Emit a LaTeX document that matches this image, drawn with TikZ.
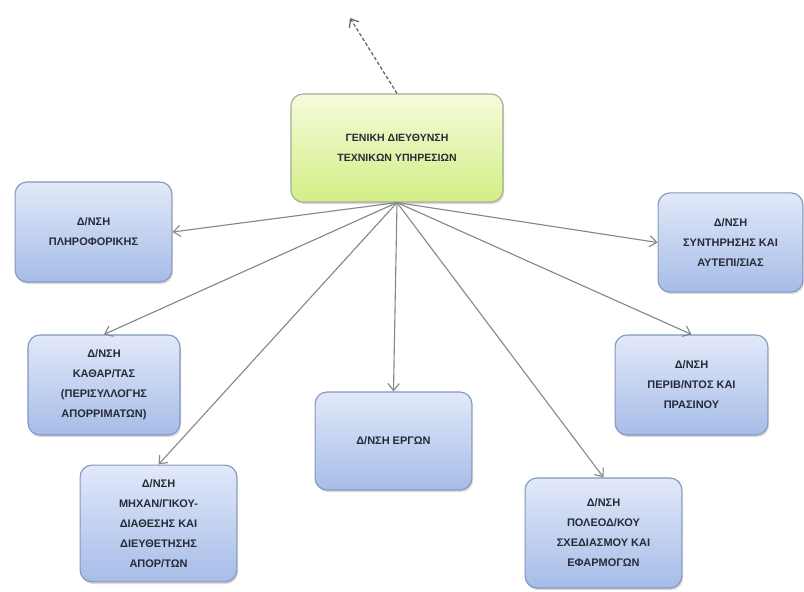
\documentclass[tikz,border=0pt]{standalone}
\usepackage{fontspec}
\newfontfamily\orgfont{Liberation Sans}
\usepackage{tikz}
\usetikzlibrary{arrows.meta}
\usetikzlibrary{shadows}

\definecolor{boxline}{HTML}{8497BD}
\definecolor{boxtop}{HTML}{E2E9F9}
\definecolor{boxbottom}{HTML}{A6BCE8}
\definecolor{headline}{HTML}{A3AE92}
\definecolor{headtop}{HTML}{F5FBDA}
\definecolor{headbottom}{HTML}{D3EE86}
\definecolor{boxtext}{HTML}{262B38}
\definecolor{linkline}{HTML}{85878A}

\begin{document}
\begin{tikzpicture}[x=0.025cm,y=-0.025cm,>={Straight Barb[length=5pt,width=8pt]},
  dept/.style={draw=boxline,line width=0.8pt,rounded corners=0.3cm,
    top color=boxtop,bottom color=boxbottom,align=center,text=boxtext,
    font=\orgfont\bfseries\fontsize{7.8}{14.2}\selectfont,
    drop shadow={opacity=0.3,shadow xshift=0.8pt,shadow yshift=-1.5pt}},
  head/.style={dept,draw=headline,top color=headtop,bottom color=headbottom,
    font=\orgfont\bfseries\fontsize{7.5}{14.2}\selectfont},
  link/.style={->,draw=linkline,line width=0.8pt}]
  \useasboundingbox (0,0) rectangle (804,592);
  \node [head,minimum width=5.3cm,minimum height=2.7cm] (gen) at (397,148)
    {ΓΕΝΙΚΗ ΔΙΕΥΘΥΝΣΗ\\ΤΕΧΝΙΚΩΝ ΥΠΗΡΕΣΙΩΝ};
  \node [dept,minimum width=3.92cm,minimum height=2.5cm] (pliro) at (93.5,232)
    {Δ/ΝΣΗ\\ΠΛΗΡΟΦΟΡΙΚΗΣ};
  \node [dept,minimum width=3.8cm,minimum height=2.5cm] (kathar) at (104,385)
    {Δ/ΝΣΗ\\ΚΑΘΑΡ/ΤΑΣ\\(ΠΕΡΙΣΥΛΛΟΓΗΣ\\ΑΠΟΡΡΙΜΑΤΩΝ)};
  \node [dept,minimum width=3.92cm,minimum height=2.92cm] (mixan) at (158.5,523.5)
    {Δ/ΝΣΗ\\ΜΗΧΑΝ/ΓΙΚΟΥ-\\ΔΙΑΘΕΣΗΣ ΚΑΙ\\ΔΙΕΥΘΕΤΗΣΗΣ\\ΑΠΟΡ/ΤΩΝ};
  \node [dept,minimum width=3.92cm,minimum height=2.45cm] (ergon) at (393.5,441)
    {Δ/ΝΣΗ ΕΡΓΩΝ};
  \node [dept,minimum width=3.92cm,minimum height=2.75cm] (poleod) at (603.5,533)
    {Δ/ΝΣΗ\\ΠΟΛΕΟΔ/ΚΟΥ\\ΣΧΕΔΙΑΣΜΟΥ ΚΑΙ\\ΕΦΑΡΜΟΓΩΝ};
  \node [dept,minimum width=3.82cm,minimum height=2.5cm] (periv) at (691.5,385)
    {Δ/ΝΣΗ\\ΠΕΡΙΒ/ΝΤΟΣ ΚΑΙ\\ΠΡΑΣΙΝΟΥ};
  \node [dept,minimum width=3.62cm,minimum height=2.48cm] (synt) at (730.5,242.5)
    {Δ/ΝΣΗ\\ΣΥΝΤΗΡΗΣΗΣ ΚΑΙ\\ΑΥΤΕΠΙ/ΣΙΑΣ};
  \coordinate (up) at (350,18);
  \draw [->,draw=black!60,line width=0.9pt,dash pattern=on 2.5pt off 1.5pt] (gen.north) -- (up);
  \draw [link] (gen.south) -- (pliro.east);
  \draw [link] (gen.south) -- (kathar.north);
  \draw [link] (gen.south) -- (mixan.north);
  \draw [link] (gen.south) -- (ergon.north);
  \draw [link] (gen.south) -- (poleod.north);
  \draw [link] (gen.south) -- (periv.north);
  \draw [link] (gen.south) -- (synt.west);
\end{tikzpicture}
\end{document}
